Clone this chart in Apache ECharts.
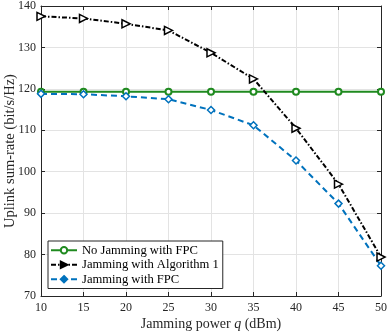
<!DOCTYPE html>
<html><head><meta charset="utf-8">
<script src="https://cdn.jsdelivr.net/npm/echarts@6/dist/echarts.min.js"></script>
<style>html,body{margin:0;padding:0;background:#fff}#c{width:392px;height:333px}</style>
</head><body><div id="c"></div>
<script>
const jammingPower = [10, 15, 20, 25, 30, 35, 40, 45, 50];
const noJammingFPC = [119.3, 119.3, 119.3, 119.3, 119.3, 119.3, 119.3, 119.3, 119.3];
const jammingAlg1 = [137.5, 137.0, 135.7, 134.1, 128.7, 122.4, 110.5, 97.0, 79.4];
const jammingFPC = [118.8, 118.7, 118.2, 117.5, 114.9, 111.2, 102.7, 92.3, 77.3];
const seriesNames = ['No Jamming with FPC', 'Jamming with Algorithm 1', 'Jamming with FPC'];

const font = 'Liberation Serif';
const green = '#1f8a1f', blue = '#0072bd';
const pair = a => jammingPower.map((x, i) => [x, a[i]]);
const axisCommon = {
  axisLine: {show: true, lineStyle: {color: '#262626', width: 1}},
  axisTick: {show: true, inside: true, length: 4, lineStyle: {color: '#262626'}},
  splitLine: {show: false}
};
const chart = echarts.init(document.getElementById('c'));
chart.setOption({
  animation: false,
  backgroundColor: '#fff',
  textStyle: {fontFamily: font},
  grid: {left: 41, right: 11, top: 6, bottom: 37, containLabel: false, outerBoundsMode: 'none'},
  legend: {
    orient: 'vertical', left: 48, top: 241,
    backgroundColor: '#fff', borderColor: '#262626', borderWidth: 1,
    padding: [2, 4, 2, 2], itemGap: 0, itemWidth: 26, itemHeight: 8,
    textStyle: {fontFamily: font, fontSize: 12.6, lineHeight: 14.5, color: '#000'},
    data: [
      {name: seriesNames[0]},
      {name: seriesNames[1], itemStyle: {color: '#000', borderColor: '#000'}},
      {name: seriesNames[2], itemStyle: {color: blue, borderColor: blue}}
    ]
  },
  xAxis: [{
    type: 'value', min: 10, max: 50, interval: 5,
    ...axisCommon,
    splitLine: {show: true, lineStyle: {color: '#e3e3e3', width: 1}},
    axisLabel: {fontFamily: font, fontSize: 12, color: '#262626', margin: 6},
    name: 'Jamming power {i|q} (dBm)', nameLocation: 'middle', nameGap: 21,
    nameMoveOverlap: false,
    nameTextStyle: {fontFamily: font, fontSize: 14, color: '#262626',
      rich: {i: {fontFamily: font, fontStyle: 'italic', fontSize: 14, color: '#262626'}}}
  }, {
    type: 'value', min: 10, max: 50, interval: 5, position: 'top',
    ...axisCommon, axisLabel: {show: false}
  }],
  yAxis: [{
    type: 'value', min: 70, max: 140, interval: 10,
    ...axisCommon,
    splitLine: {show: true, lineStyle: {color: '#e3e3e3', width: 1}},
    axisLabel: {fontFamily: font, fontSize: 12, color: '#262626', margin: 5},
    name: 'Uplink sum-rate (bit/s/Hz)', nameLocation: 'middle', nameGap: 23,
    nameMoveOverlap: false,
    nameTextStyle: {fontFamily: font, fontSize: 14.5, color: '#262626'}
  }, {
    type: 'value', min: 70, max: 140, interval: 10, position: 'right',
    ...axisCommon, axisLabel: {show: false}
  }],
  series: [{
    name: seriesNames[0], type: 'line', data: pair(noJammingFPC),
    symbol: 'emptyCircle', symbolSize: 6,
    lineStyle: {color: green, width: 2},
    itemStyle: {color: green, borderWidth: 1.5}
  }, {
    name: seriesNames[1], type: 'line', data: pair(jammingAlg1),
    symbol: 'triangle', symbolSize: 8, symbolRotate: -90,
    lineStyle: {color: '#000', width: 2, type: [5, 2, 1.5, 2]},
    itemStyle: {color: '#fff', borderColor: '#000', borderWidth: 1.5}
  }, {
    name: seriesNames[2], type: 'line', data: pair(jammingFPC),
    symbol: 'diamond', symbolSize: 7,
    lineStyle: {color: blue, width: 2, type: [6, 4]},
    itemStyle: {color: '#fff', borderColor: blue, borderWidth: 1.5}
  }]
});
</script></body></html>
